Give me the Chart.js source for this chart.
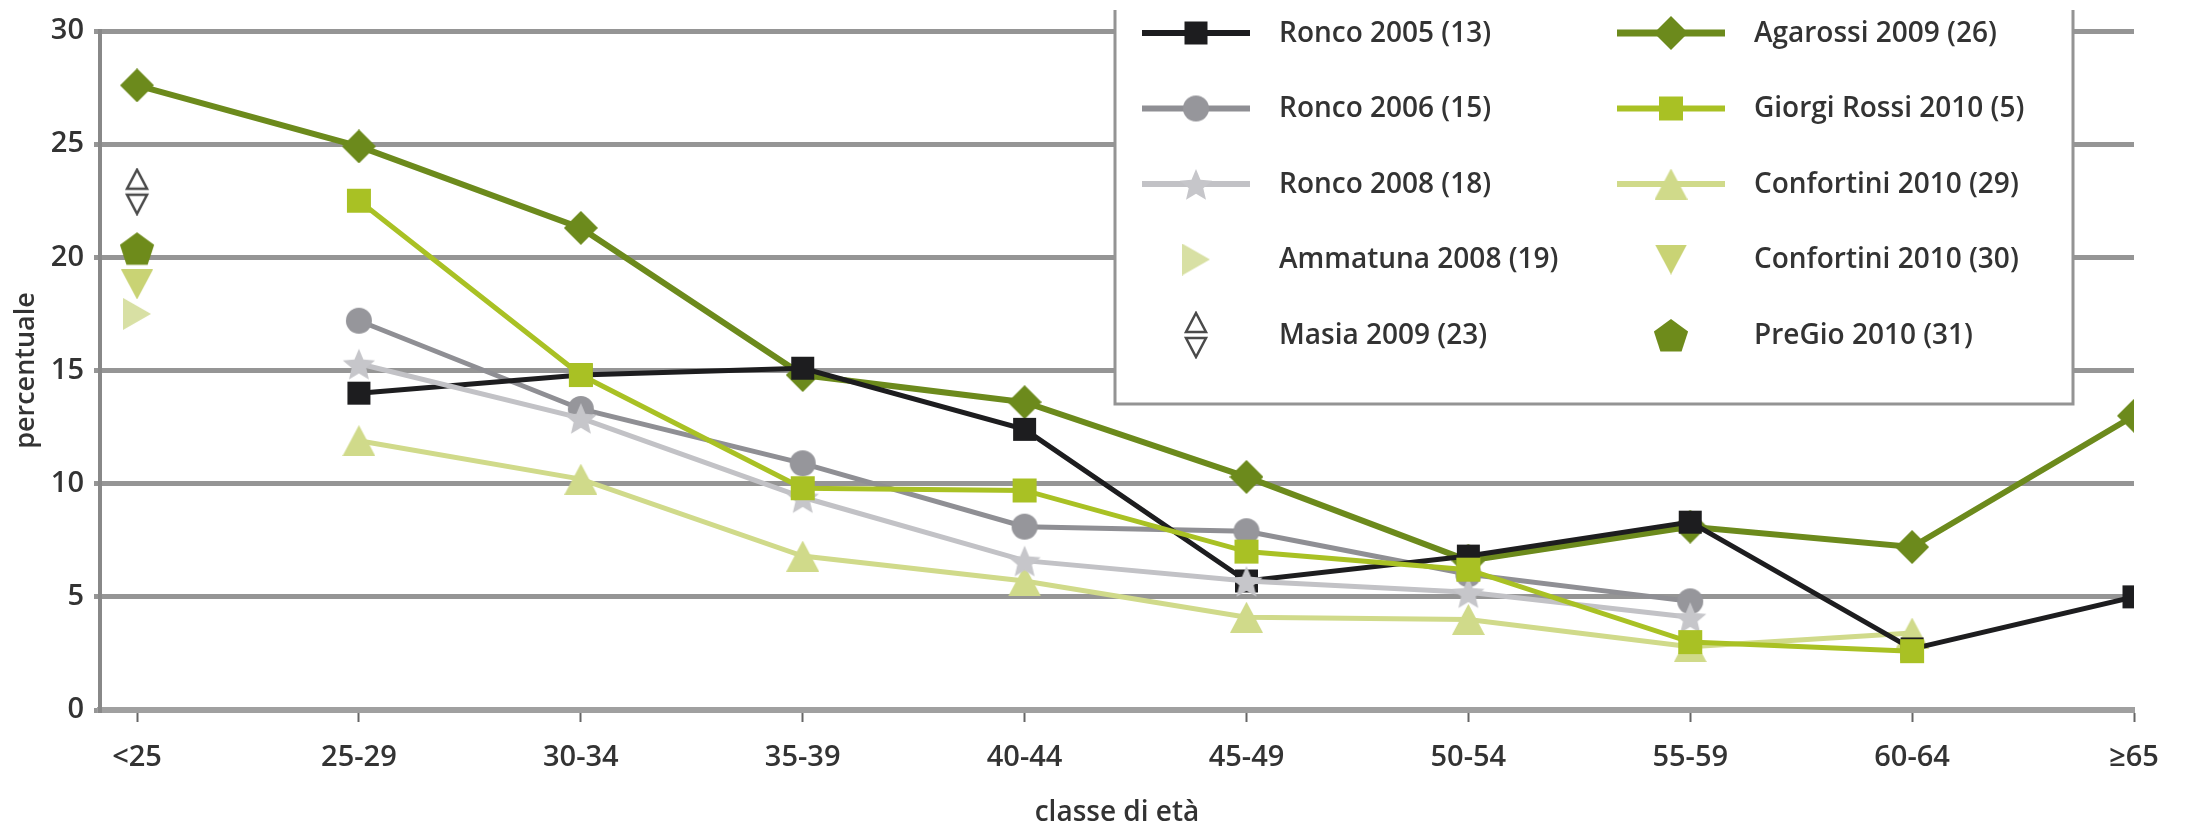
<!DOCTYPE html>
<html>
<head>
<meta charset="utf-8">
<title>percentuale per classe di età</title>
<script src="https://cdn.jsdelivr.net/npm/chart.js@4.4.1/dist/chart.umd.min.js"></script>
<style>
  html, body { margin: 0; padding: 0; background: #fff; }
</style>
</head>
<body>
<canvas id="chart" width="2185" height="830"></canvas>
<script>
// age classes on the x axis, ticks on the y axis
const AGE_CLASSES = ['<25', '25-29', '30-34', '35-39', '40-44', '45-49', '50-54', '55-59', '60-64', '≥65'];
const Y_TICKS = [0, 5, 10, 15, 20, 25, 30];

// percentuale per study (null = no value for that class)
const RONCO_2005 = [null, 14.0, 14.8, 15.1, 12.4, 5.7, 6.8, 8.3, 2.7, 5.0];
const RONCO_2006 = [null, 17.2, 13.3, 10.9, 8.1, 7.9, 6.0, 4.8, null, null];
const RONCO_2008 = [null, 15.3, 12.9, 9.4, 6.6, 5.7, 5.2, 4.1, null, null];
const AMMATUNA_2008 = [17.5, null, null, null, null, null, null, null, null, null];
const MASIA_2009 = [22.9, null, null, null, null, null, null, null, null, null];
const AGAROSSI_2009 = [27.6, 24.9, 21.3, 14.8, 13.6, 10.3, 6.6, 8.1, 7.2, 13.0];
const GIORGI_ROSSI_2010 = [null, 22.5, 14.8, 9.8, 9.7, 7.0, 6.2, 3.0, 2.6, null];
const CONFORTINI_2010_29 = [null, 11.9, 10.2, 6.8, 5.7, 4.1, 4.0, 2.8, 3.4, null];
const CONFORTINI_2010_30 = [18.8, null, null, null, null, null, null, null, null, null];
const PREGIO_2010 = [20.4, null, null, null, null, null, null, null, null, null];

const FONT = "'Open Sans', 'DejaVu Sans', sans-serif";
const TEXT_COLOR = '#333333';

// marker images, so the legend and the points share the same shape
function makeMarker(shape, w, h, fill) {
    const c = document.createElement('canvas');
    c.width = w;
    c.height = h;
    const g = c.getContext('2d');
    g.fillStyle = fill;
    g.beginPath();
    if (shape === 'square') {
        g.rect(1, 1, w - 2, h - 2);
    } else if (shape === 'circle') {
        g.arc(w / 2, h / 2, w / 2 - 1, 0, Math.PI * 2);
    } else if (shape === 'diamond') {
        g.moveTo(w / 2, 0); g.lineTo(w, h / 2); g.lineTo(w / 2, h); g.lineTo(0, h / 2);
    } else if (shape === 'triUp') {
        g.moveTo(w / 2, 0); g.lineTo(w, h); g.lineTo(0, h);
    } else if (shape === 'triDown') {
        g.moveTo(0, 0); g.lineTo(w, 0); g.lineTo(w / 2, h);
    } else if (shape === 'triRight') {
        g.moveTo(0, 0); g.lineTo(w, h / 2); g.lineTo(0, h);
    } else if (shape === 'star' || shape === 'pentagon') {
        const n = shape === 'star' ? 10 : 5;
        const R = w / 2;
        for (let i = 0; i < n; i++) {
            const r = (shape === 'star' && i % 2) ? R * 0.45 : R;
            const a = -Math.PI / 2 + i * 2 * Math.PI / n;
            const px = w / 2 + r * Math.cos(a);
            const py = h / 2 + 2 + r * Math.sin(a);
            if (i === 0) g.moveTo(px, py); else g.lineTo(px, py);
        }
    }
    g.closePath();
    g.fill();
    return c;
}

function makeMasiaMarker() {
    const c = document.createElement('canvas');
    c.width = 26;
    c.height = 48;
    const g = c.getContext('2d');
    g.strokeStyle = '#4a4a4a';
    g.fillStyle = '#fff';
    g.lineWidth = 2.5;
    g.beginPath();
    g.moveTo(13, 2); g.lineTo(23, 21); g.lineTo(3, 21); g.closePath();
    g.fill(); g.stroke();
    g.beginPath();
    g.moveTo(3, 27); g.lineTo(23, 27); g.lineTo(13, 46); g.closePath();
    g.fill(); g.stroke();
    return c;
}

function lineSet(label, data, color, marker, width, order) {
    return {
        label: label,
        data: data,
        borderColor: color,
        backgroundColor: color,
        borderWidth: width,
        pointStyle: marker,
        pointRadius: 10,
        pointHoverRadius: 10,
        tension: 0,
        order: order
    };
}

function pointSet(label, data, color, marker, order) {
    return {
        label: label,
        data: data,
        borderColor: color,
        backgroundColor: color,
        showLine: false,
        pointStyle: marker,
        pointRadius: 10,
        pointHoverRadius: 10,
        order: order
    };
}

const datasets = [
    lineSet('Ronco 2005 (13)', RONCO_2005, '#1d1d1f', makeMarker('square', 25, 25, '#1d1d1f'), 5, 3),
    lineSet('Ronco 2006 (15)', RONCO_2006, '#8f8f94', makeMarker('circle', 28, 28, '#96969b'), 5, 4),
    lineSet('Ronco 2008 (18)', RONCO_2008, '#c2c2c6', makeMarker('star', 34, 34, '#c6c6ca'), 5, 2),
    pointSet('Ammatuna 2008 (19)', AMMATUNA_2008, '#d8e0a4', makeMarker('triRight', 28, 32, '#d8e0a4'), 9),
    pointSet('Masia 2009 (23)', MASIA_2009, '#4a4a4a', makeMasiaMarker(), 9),
    lineSet('Agarossi 2009 (26)', AGAROSSI_2009, '#6c8a1c', makeMarker('diamond', 34, 34, '#6c8a1c'), 6, 5),
    lineSet('Giorgi Rossi 2010 (5)', GIORGI_ROSSI_2010, '#a9c124', makeMarker('square', 26, 26, '#a9c124'), 5, 1),
    lineSet('Confortini 2010 (29)', CONFORTINI_2010_29, '#d0da8a', makeMarker('triUp', 33, 31, '#d0da8a'), 5, 6),
    pointSet('Confortini 2010 (30)', CONFORTINI_2010_30, '#c9d374', makeMarker('triDown', 32, 30, '#c9d374'), 8),
    pointSet('PreGio 2010 (31)', PREGIO_2010, '#6e8b1b', makeMarker('pentagon', 36, 36, '#6e8b1b'), 7)
];

// legend box drawn inside the plot, two columns of five
const legendBox = {
    id: 'legendBox',
    afterDatasetsDraw(chart) {
        const ctx = chart.ctx;
        ctx.save();
        ctx.fillStyle = '#fff';
        ctx.fillRect(1115, 6, 958, 398);
        ctx.strokeStyle = '#949494';
        ctx.lineWidth = 3;
        ctx.beginPath();
        ctx.moveTo(1115, 10);
        ctx.lineTo(1115, 404);
        ctx.lineTo(2073, 404);
        ctx.lineTo(2073, 10);
        ctx.stroke();

        ctx.font = '600 28px ' + FONT;
        ctx.textBaseline = 'middle';
        ctx.textAlign = 'left';
        chart.data.datasets.forEach((ds, i) => {
            const col = Math.floor(i / 5);
            const row = i % 5;
            const x0 = col ? 1617 : 1142;
            const y = 33 + row * 75.5;
            const cx = x0 + 54;
            if (ds.showLine !== false) {
                ctx.strokeStyle = ds.borderColor;
                ctx.lineWidth = ds.borderWidth + 1;
                ctx.beginPath();
                ctx.moveTo(x0, y);
                ctx.lineTo(x0 + 108, y);
                ctx.stroke();
            }
            const m = ds.pointStyle;
            ctx.drawImage(m, cx - m.width / 2, y - m.height / 2);
            ctx.fillStyle = TEXT_COLOR;
            ctx.fillText(ds.label, x0 + 137, y + 1);
        });
        ctx.restore();
    }
};

new Chart(document.getElementById('chart').getContext('2d'), {
    type: 'line',
    data: {
        labels: AGE_CLASSES.map((_, i) => i),
        datasets: datasets
    },
    options: {
        responsive: false,
        animation: false,
        devicePixelRatio: 1,
        layout: { padding: { left: 0, right: 51, top: 31, bottom: 0 } },
        plugins: {
            legend: { display: false },
            tooltip: { enabled: false }
        },
        scales: {
            x: {
                type: 'linear',
                min: -0.167,
                max: 9,
                bounds: 'data',
                afterBuildTicks: s => { s.ticks = AGE_CLASSES.map((_, i) => ({ value: i })); },
                afterFit: s => { s.height = 120; },
                ticks: {
                    callback: v => AGE_CLASSES[v],
                    font: { family: FONT, size: 29, weight: '600' },
                    color: TEXT_COLOR,
                    padding: 18,
                    maxRotation: 0,
                    autoSkip: false
                },
                grid: {
                    drawOnChartArea: false,
                    drawTicks: true,
                    tickLength: 12,
                    tickWidth: 2,
                    tickColor: '#666'
                },
                border: { color: '#a0a0a0', width: 6 },
                title: {
                    display: true,
                    text: 'classe di età',
                    font: { family: FONT, size: 28, weight: '600' },
                    color: TEXT_COLOR,
                    padding: { top: 4, bottom: 0 }
                }
            },
            y: {
                min: 0,
                max: 30,
                afterBuildTicks: s => { s.ticks = Y_TICKS.map(v => ({ value: v })); },
                afterFit: s => { s.width = 100; },
                ticks: {
                    font: { family: FONT, size: 29, weight: '600' },
                    color: TEXT_COLOR,
                    padding: 10
                },
                grid: {
                    color: '#959595',
                    lineWidth: 5,
                    tickLength: 6,
                    drawTicks: true
                },
                border: { color: '#888888', width: 4 },
                title: {
                    display: true,
                    text: 'percentuale',
                    font: { family: FONT, size: 27, weight: '600' },
                    color: TEXT_COLOR,
                    padding: { top: 10, bottom: 0 }
                }
            }
        }
    },
    plugins: [legendBox]
});
</script>
</body>
</html>
